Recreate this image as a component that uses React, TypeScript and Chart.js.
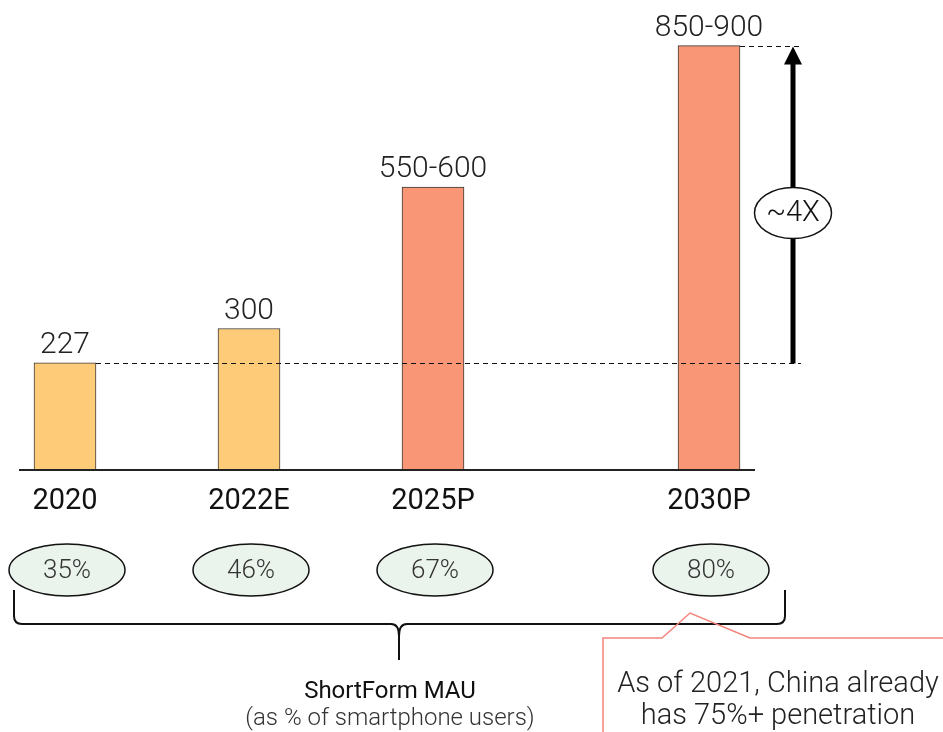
import React, { useEffect, useRef } from "react";
import { Chart, registerables } from "chart.js";

Chart.register(...registerables);

// ShortForm MAU (millions) and share of smartphone users
const periods = ["2020", "2022E", "2025P", "2030P"];
const mau = [227, 300, 600, 900];
const mauLabels = ["227", "300", "550-600", "850-900"];
const penetration = ["35%", "46%", "67%", "80%"];
const growthLabel = "~4X";

const YELLOW = "#FECB78";
const SALMON = "#F99675";
const barColors = [YELLOW, YELLOW, SALMON, SALMON];

// horizontal slot of each bar on the linear x axis (the last one sits a bit further out)
const slots = [0, 1, 2, 3.5];

const FONT = "Roboto, 'Noto Sans', sans-serif";

const overlay = {
  id: "overlay",
  afterDatasetsDraw(chart: any) {
    const ctx: CanvasRenderingContext2D = chart.ctx;
    const ys = chart.scales.y;
    const meta = chart.getDatasetMeta(0);
    const area = chart.chartArea;
    ctx.save();

    // baseline
    const y0 = ys.getPixelForValue(0);
    ctx.strokeStyle = "#222";
    ctx.lineWidth = 2;
    ctx.beginPath();
    ctx.moveTo(area.left, y0);
    ctx.lineTo(area.right, y0);
    ctx.stroke();

    // value labels and period labels
    ctx.textAlign = "center";
    ctx.textBaseline = "alphabetic";
    meta.data.forEach((bar: any, i: number) => {
      ctx.fillStyle = "#222";
      ctx.font = `300 30px ${FONT}`;
      ctx.fillText(mauLabels[i], bar.x, bar.y - 10);
      ctx.fillStyle = "#111";
      ctx.font = `400 29px ${FONT}`;
      ctx.fillText(periods[i], bar.x, y0 + 39);
    });

    // dashed guides from the first and last bars
    const first = meta.data[0];
    const last = meta.data[meta.data.length - 1];
    const arrowX = last.x + 84;
    const yLow = Math.round(ys.getPixelForValue(mau[0])) + 0.5;
    const yHigh = Math.round(ys.getPixelForValue(mau[mau.length - 1])) + 0.5;
    ctx.strokeStyle = "#111";
    ctx.lineWidth = 1;
    ctx.setLineDash([5, 4]);
    ctx.beginPath();
    ctx.moveTo(first.x + first.width / 2, yLow);
    ctx.lineTo(arrowX + 8, yLow);
    ctx.moveTo(last.x + last.width / 2, yHigh);
    ctx.lineTo(arrowX + 8, yHigh);
    ctx.stroke();
    ctx.setLineDash([]);

    // growth arrow
    ctx.fillStyle = "#000";
    ctx.fillRect(arrowX - 2.5, yHigh + 16, 5, yLow - yHigh - 16);
    ctx.beginPath();
    ctx.moveTo(arrowX, yHigh);
    ctx.lineTo(arrowX - 9, yHigh + 18);
    ctx.lineTo(arrowX + 9, yHigh + 18);
    ctx.closePath();
    ctx.fill();

    // growth bubble
    const midY = (yLow + yHigh) / 2 + 8;
    ctx.beginPath();
    ctx.ellipse(arrowX, midY, 38.5, 25.5, 0, 0, Math.PI * 2);
    ctx.fillStyle = "#fff";
    ctx.fill();
    ctx.lineWidth = 1.5;
    ctx.strokeStyle = "#111";
    ctx.stroke();
    ctx.fillStyle = "#111";
    ctx.font = `300 29px ${FONT}`;
    ctx.textBaseline = "middle";
    ctx.fillText(growthLabel, arrowX, midY + 1);

    // penetration bubbles
    meta.data.forEach((bar: any, i: number) => {
      const cx = bar.x + 2;
      const cy = 570;
      ctx.beginPath();
      ctx.ellipse(cx, cy, 58, 26, 0, 0, Math.PI * 2);
      ctx.fillStyle = "#EAF4EC";
      ctx.fill();
      ctx.lineWidth = 1.5;
      ctx.strokeStyle = "#111";
      ctx.stroke();
      ctx.fillStyle = "#333";
      ctx.font = `300 26px ${FONT}`;
      ctx.fillText(penetration[i], cx, cy + 1);
    });

    // brace under the bubbles
    const bl = 14, br = 785, bt = 590, bh = 624, bc = 399, tip = 660;
    ctx.strokeStyle = "#111";
    ctx.lineWidth = 2;
    ctx.beginPath();
    ctx.moveTo(bl, bt);
    ctx.lineTo(bl, bh - 8);
    ctx.quadraticCurveTo(bl, bh, bl + 8, bh);
    ctx.lineTo(bc - 8, bh);
    ctx.quadraticCurveTo(bc, bh, bc, bh + 12);
    ctx.lineTo(bc, tip);
    ctx.moveTo(bc, bh + 12);
    ctx.quadraticCurveTo(bc, bh, bc + 8, bh);
    ctx.lineTo(br - 8, bh);
    ctx.quadraticCurveTo(br, bh, br, bh - 8);
    ctx.lineTo(br, bt);
    ctx.stroke();

    ctx.fillStyle = "#111";
    ctx.textBaseline = "middle";
    ctx.font = `400 24px ${FONT}`;
    ctx.fillText("ShortForm MAU", 390, 692);
    ctx.fillStyle = "#333";
    ctx.font = `300 24px ${FONT}`;
    ctx.fillText("(as % of smartphone users)", 390, 719);

    // callout
    ctx.strokeStyle = "#F4837B";
    ctx.lineWidth = 1.5;
    ctx.beginPath();
    ctx.moveTo(603, 740);
    ctx.lineTo(603, 638);
    ctx.lineTo(662, 638);
    ctx.lineTo(690, 613);
    ctx.lineTo(750, 638);
    ctx.lineTo(950, 638);
    ctx.stroke();
    ctx.fillStyle = "#222";
    ctx.font = `300 29px ${FONT}`;
    ctx.fillText("As of 2021, China already", 778, 685);
    ctx.fillText("has 75%+ penetration", 778, 717);

    ctx.restore();
  },
};

export default function App() {
  const ref = useRef<HTMLCanvasElement | null>(null);

  useEffect(() => {
    if (!ref.current) return;
    const chart = new Chart(ref.current, {
      type: "bar",
      data: {
        datasets: [
          {
            data: mau.map((v, i) => ({ x: slots[i], y: v })),
            backgroundColor: barColors,
            borderColor: "#3a3a3a",
            borderWidth: 1,
            barThickness: 62,
          },
        ],
      },
      options: {
        animation: false,
        responsive: false,
        devicePixelRatio: 1,
        layout: { padding: { left: 19, right: 188, top: 22, bottom: 262 } },
        plugins: {
          legend: { display: false },
          tooltip: { enabled: false },
        },
        scales: {
          x: { type: "linear", min: -0.25, max: 3.75, offset: false, display: false },
          y: { min: 0, max: 950, display: false },
        },
      },
      plugins: [overlay],
    });
    return () => chart.destroy();
  }, []);

  return (
    <div style={{ position: "absolute", left: 0, top: 0, width: 943, height: 732, background: "#fff" }}>
      <canvas ref={ref} width={943} height={732} />
    </div>
  );
}
